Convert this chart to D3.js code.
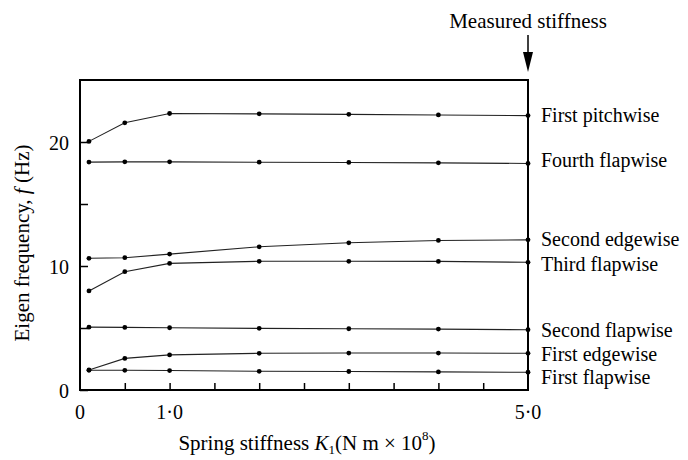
<!DOCTYPE html>
<html>
<head>
<meta charset="utf-8">
<script src="https://cdn.jsdelivr.net/npm/d3@7"></script>
<style>
  body { margin: 0; background: #fff; }
  svg { font-family: "Liberation Serif", "DejaVu Serif", serif; }
</style>
</head>
<body>
<div id="chart"></div>
<script>
// spring stiffness K1 values (N m x 10^8)
const stiffness = [0.1, 0.5, 1.0, 2.0, 3.0, 4.0, 5.0];

const modes = ["First pitchwise", "Fourth flapwise", "Second edgewise", "Third flapwise",
  "Second flapwise", "First edgewise", "First flapwise"];

const firstPitchwise = [20.05, 21.55, 22.3, 22.27, 22.23, 22.18, 22.13];
const fourthFlapwise = [18.38, 18.4, 18.4, 18.37, 18.35, 18.32, 18.27];
const secondEdgewise = [10.62, 10.67, 10.96, 11.55, 11.87, 12.06, 12.11];
const thirdFlapwise = [7.99, 9.54, 10.21, 10.38, 10.38, 10.37, 10.3];
const secondFlapwise = [5.07, 5.05, 5.02, 4.97, 4.94, 4.91, 4.86];
const firstEdgewise = [1.62, 2.55, 2.83, 2.96, 2.98, 2.98, 2.96];
const firstFlapwise = [1.59, 1.59, 1.57, 1.51, 1.49, 1.46, 1.43];

const series = [firstPitchwise, fourthFlapwise, secondEdgewise, thirdFlapwise,
  secondFlapwise, firstEdgewise, firstFlapwise];

const xTicks = [0, 0.5, 1.0, 1.5, 2.0, 2.5, 3.0, 3.5, 4.0, 4.5, 5.0];
const xTickLabels = { 0: "0", 1: "1·0", 5: "5·0" };
const yTicks = [0, 5, 10, 15, 20];
const yTickLabels = { 0: "0", 10: "10", 20: "20" };

const width = 688, height = 460;
const margin = { top: 80, right: 160, bottom: 70, left: 80 };

const svg = d3.select("#chart")
  .append("svg")
  .attr("width", width)
  .attr("height", height);

const x = d3.scaleLinear().domain([0, 5]).range([margin.left, width - margin.right]);
const y = d3.scaleLinear().domain([0, 25]).range([height - margin.bottom, margin.top]);

// y axis ticks (inward)
const yAxis = d3.axisRight(y)
  .tickValues(yTicks)
  .tickSize(8)
  .tickFormat(d => "");
svg.append("g")
  .attr("transform", `translate(${x(0)},0)`)
  .call(yAxis)
  .call(g => g.select(".domain").remove())
  .call(g => g.selectAll("line").attr("stroke", "#000").attr("stroke-width", 1.5));

svg.append("g")
  .selectAll("text")
  .data(yTicks.filter(d => yTickLabels[d] !== undefined))
  .enter()
  .append("text")
  .attr("x", x(0) - 11)
  .attr("y", d => y(d))
  .attr("dy", "0.4em")
  .attr("text-anchor", "end")
  .attr("font-size", 20)
  .text(d => yTickLabels[d]);

// x axis ticks (inward)
const xAxis = d3.axisTop(x)
  .tickValues(xTicks.slice(1, -1))
  .tickSize(7)
  .tickFormat(d => "");
svg.append("g")
  .attr("transform", `translate(0,${y(0)})`)
  .call(xAxis)
  .call(g => g.select(".domain").remove())
  .call(g => g.selectAll("line").attr("stroke", "#000").attr("stroke-width", 1.5));

svg.append("g")
  .selectAll("text")
  .data(xTicks.filter(d => xTickLabels[d] !== undefined))
  .enter()
  .append("text")
  .attr("x", d => x(d))
  .attr("y", y(0) + 29)
  .attr("text-anchor", "middle")
  .attr("font-size", 20)
  .text(d => xTickLabels[d]);

// frame
svg.append("rect")
  .attr("x", x(0))
  .attr("y", y(25))
  .attr("width", x(5) - x(0))
  .attr("height", y(0) - y(25))
  .attr("fill", "none")
  .attr("stroke", "#000")
  .attr("stroke-width", 2);

// lines + markers
const line = d3.line()
  .x((d, i) => x(stiffness[i]))
  .y(d => y(d));

svg.append("g")
  .selectAll("path")
  .data(series)
  .enter()
  .append("path")
  .attr("d", line)
  .attr("fill", "none")
  .attr("stroke", "#222")
  .attr("stroke-width", 1.1);

series.forEach(s => {
  svg.append("g")
    .selectAll("circle")
    .data(s)
    .enter()
    .append("circle")
    .attr("cx", (d, i) => x(stiffness[i]))
    .attr("cy", d => y(d))
    .attr("r", 2.4)
    .attr("fill", "#000");
});

// mode labels at the right end
const labelNudge = [-1, -3, -1, 1.5, 0, 1, 5];
svg.append("g")
  .selectAll("text")
  .data(modes)
  .enter()
  .append("text")
  .attr("x", x(5) + 13)
  .attr("y", (d, i) => y(series[i][series[i].length - 1]) + labelNudge[i])
  .attr("dy", "0.35em")
  .attr("font-size", 20)
  .text(d => d);

// measured stiffness annotation
svg.append("text")
  .attr("x", x(5))
  .attr("y", 28)
  .attr("text-anchor", "middle")
  .attr("font-size", 21)
  .text("Measured stiffness");

svg.append("line")
  .attr("x1", x(5)).attr("x2", x(5))
  .attr("y1", 35).attr("y2", 60)
  .attr("stroke", "#000")
  .attr("stroke-width", 1.5);
svg.append("path")
  .attr("d", `M${x(5) - 5},52 L${x(5) + 5},52 L${x(5)},72 Z`)
  .attr("fill", "#000");

// axis titles
svg.append("text")
  .attr("transform", `translate(29,${243}) rotate(-90)`)
  .attr("text-anchor", "middle")
  .attr("font-size", 21)
  .html('Eigen frequency, <tspan font-style="italic">f</tspan> (Hz)');

svg.append("text")
  .attr("x", 307)
  .attr("y", 450)
  .attr("text-anchor", "middle")
  .attr("font-size", 21)
  .html('Spring stiffness <tspan font-style="italic">K</tspan><tspan font-size="13" dy="4">1</tspan><tspan dy="-4">(N m × 10</tspan><tspan font-size="13" dy="-10">8</tspan><tspan dy="10">)</tspan>');
</script>
</body>
</html>
